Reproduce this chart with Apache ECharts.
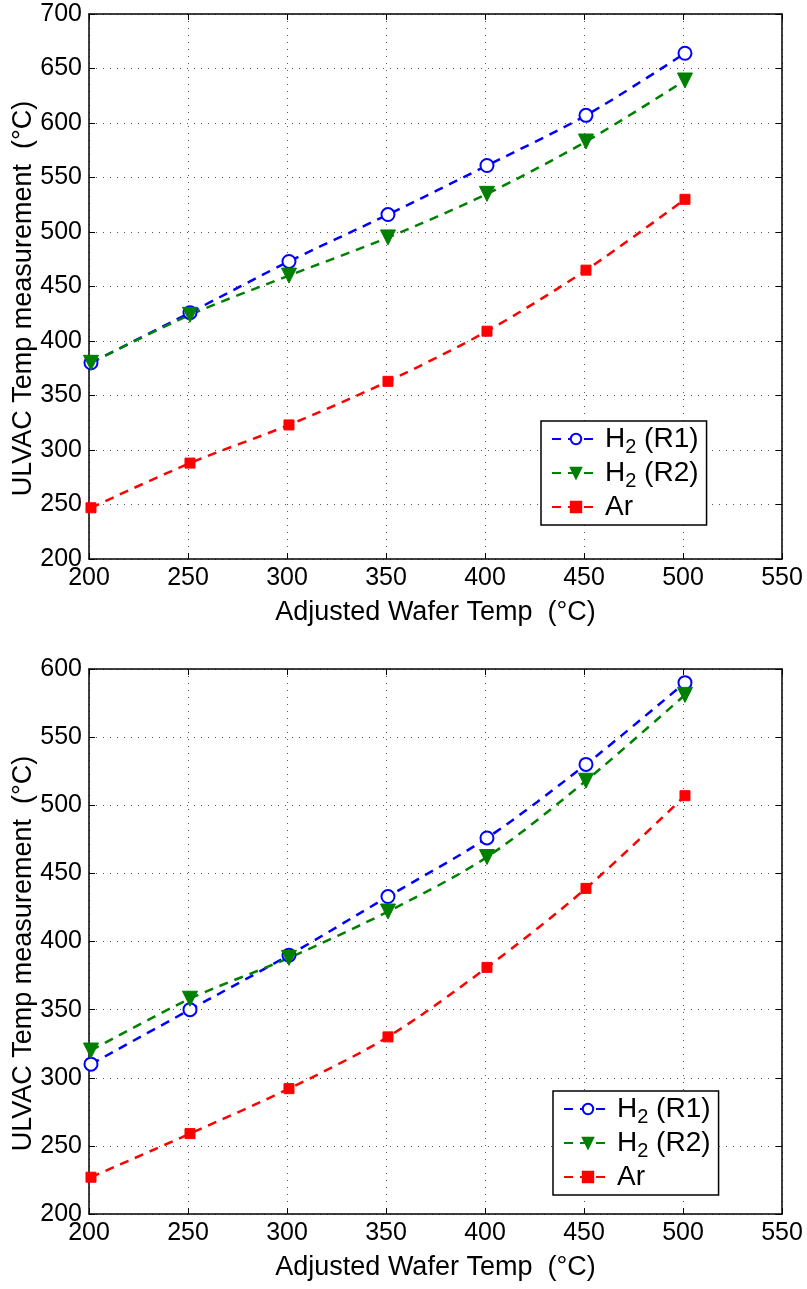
<!DOCTYPE html>
<html>
<head>
<meta charset="utf-8">
<script src="https://cdn.jsdelivr.net/npm/echarts@6/dist/echarts.min.js"></script>
<style>html,body{margin:0;padding:0;background:#fff}#c{width:807px;height:1289px}</style>
</head>
<body>
<div id="c"></div>
<script>
// Data
var xVals = [201, 251, 301, 351, 401, 451, 501];
var topR1 = [380, 426, 473, 516, 561, 607, 664];
var topR2 = [380, 424, 460, 495, 535, 583, 639];
var topAr = [247, 288, 323, 363, 409, 465, 530];
var botR1 = [310, 350, 390, 433, 476, 530, 590];
var botR2 = [320, 358, 388, 422, 462, 518, 581];
var botAr = [227, 259, 292, 330, 381, 439, 507];
var seriesNames = ['H2 (R1)', 'H2 (R2)', 'Ar'];
var xAxisTitle = 'Adjusted Wafer Temp  (°C)';
var yAxisTitle = 'ULVAC Temp measurement  (°C)';

var FONT = 'Arial, "Liberation Sans", sans-serif';
var colors = ['#0000ff', '#008000', '#ff0000'];
function pairs(v){ return xVals.map(function(x,i){ return [x, v[i]]; }); }

var grids = [
  {left: 89, top: 14, width: 693, height: 545, containLabel: false, outerBoundsMode: 'none'},
  {left: 89, top: 669, width: 693, height: 545, containLabel: false, outerBoundsMode: 'none'}
];
var yRanges = [[200, 700], [200, 600]];
var gridDots = {color: '#555', type: [1, 6], width: 1};

function xAxisCfg(gi){
  return {
    type: 'value', gridIndex: gi, min: 200, max: 550, interval: 50,
    name: xAxisTitle, nameLocation: 'middle', nameGap: 40, nameMoveOverlap: false,
    nameTextStyle: {fontFamily: FONT, fontSize: 27, color: '#000'},
    axisLine: {show: true, onZero: false, lineStyle: {color: '#000', width: 1.5}},
    axisTick: {show: true, inside: true, length: 6, lineStyle: {color: '#000'}},
    axisLabel: {fontFamily: FONT, fontSize: 25, color: '#000', margin: 7},
    splitLine: {show: true, lineStyle: gridDots}
  };
}
function xAxisTop(gi){
  return {type: 'value', gridIndex: gi, position: 'top', min: 200, max: 550, interval: 50,
    axisLine: {show: true, onZero: false, lineStyle: {color: '#000', width: 1.5}},
    axisTick: {show: true, inside: true, length: 6, lineStyle: {color: '#000'}},
    axisLabel: {show: false}, splitLine: {show: false}};
}
function yAxisCfg(gi){
  return {
    type: 'value', gridIndex: gi, min: yRanges[gi][0], max: yRanges[gi][1], interval: 50,
    name: yAxisTitle, nameLocation: 'middle', nameGap: 52, nameRotate: 90, nameMoveOverlap: false,
    nameTextStyle: {fontFamily: FONT, fontSize: 27, color: '#000', padding: [0, 24, 0, 0]},
    axisLine: {show: true, onZero: false, lineStyle: {color: '#000', width: 1.5}},
    axisTick: {show: true, inside: true, length: 6, lineStyle: {color: '#000'}},
    axisLabel: {fontFamily: FONT, fontSize: 25, color: '#000', margin: 7},
    splitLine: {show: true, lineStyle: gridDots}
  };
}
function yAxisRight(gi){
  return {type: 'value', gridIndex: gi, position: 'right', min: yRanges[gi][0], max: yRanges[gi][1], interval: 50,
    axisLine: {show: true, onZero: false, lineStyle: {color: '#000', width: 1.5}},
    axisTick: {show: true, inside: true, length: 6, lineStyle: {color: '#000'}},
    axisLabel: {show: false}, splitLine: {show: false}};
}

var symbols = ['emptyCircle', 'triangle', 'rect'];
var symSizes = [13, 15, 10];
function mkSeries(name, data, k, xi, yi){
  return {
    name: name, type: 'line', xAxisIndex: xi, yAxisIndex: yi,
    data: pairs(data), smooth: 0.3,
    symbol: symbols[k], symbolSize: symSizes[k], symbolRotate: k === 1 ? 180 : 0,
    showAllSymbol: true,
    lineStyle: {color: colors[k], width: 2.5, type: [9, 7]},
    itemStyle: {color: colors[k], borderColor: colors[k], borderWidth: k === 0 ? 3 : 1},
    emphasis: {disabled: true}
  };
}

var richText = {
  b: {fontFamily: FONT, fontSize: 28, color: '#000'},
  s: {fontFamily: FONT, fontSize: 20, color: '#000', padding: [16, 0, 0, 0]}
};
function fmt(n){
  if (n.indexOf('H2') === 0) return '{b|H}{s|2}{b| ' + n.slice(3) + '}';
  return '{b|' + n + '}';
}
function legendCfg(gi, left, top){
  return {
    data: seriesNames.map(function(n){ return {name: n}; }),
    orient: 'vertical', left: left, top: top,
    backgroundColor: '#fff', borderColor: '#000', borderWidth: 1.5,
    padding: [4, 8, 4, 10], itemGap: 2, itemWidth: 48, itemHeight: 13,
    formatter: fmt, textStyle: {rich: richText},
    selectedMode: false
  };
}

var series = [];
[[topR1, topR2, topAr], [botR1, botR2, botAr]].forEach(function(set, gi){
  set.forEach(function(d, k){
    series.push(mkSeries(seriesNames[k], d, k, gi * 2, gi * 2));
  });
});

var option = {
  animation: false,
  backgroundColor: '#fff',
  grid: grids,
  xAxis: [xAxisCfg(0), xAxisTop(0), xAxisCfg(1), xAxisTop(1)],
  yAxis: [yAxisCfg(0), yAxisRight(0), yAxisCfg(1), yAxisRight(1)],
  legend: [legendCfg(0, 541, 421), legendCfg(1, 553, 1091)],
  series: series
};
var chart = echarts.init(document.getElementById('c'), null, {renderer: 'canvas'});
chart.setOption(option);
</script>
</body>
</html>
